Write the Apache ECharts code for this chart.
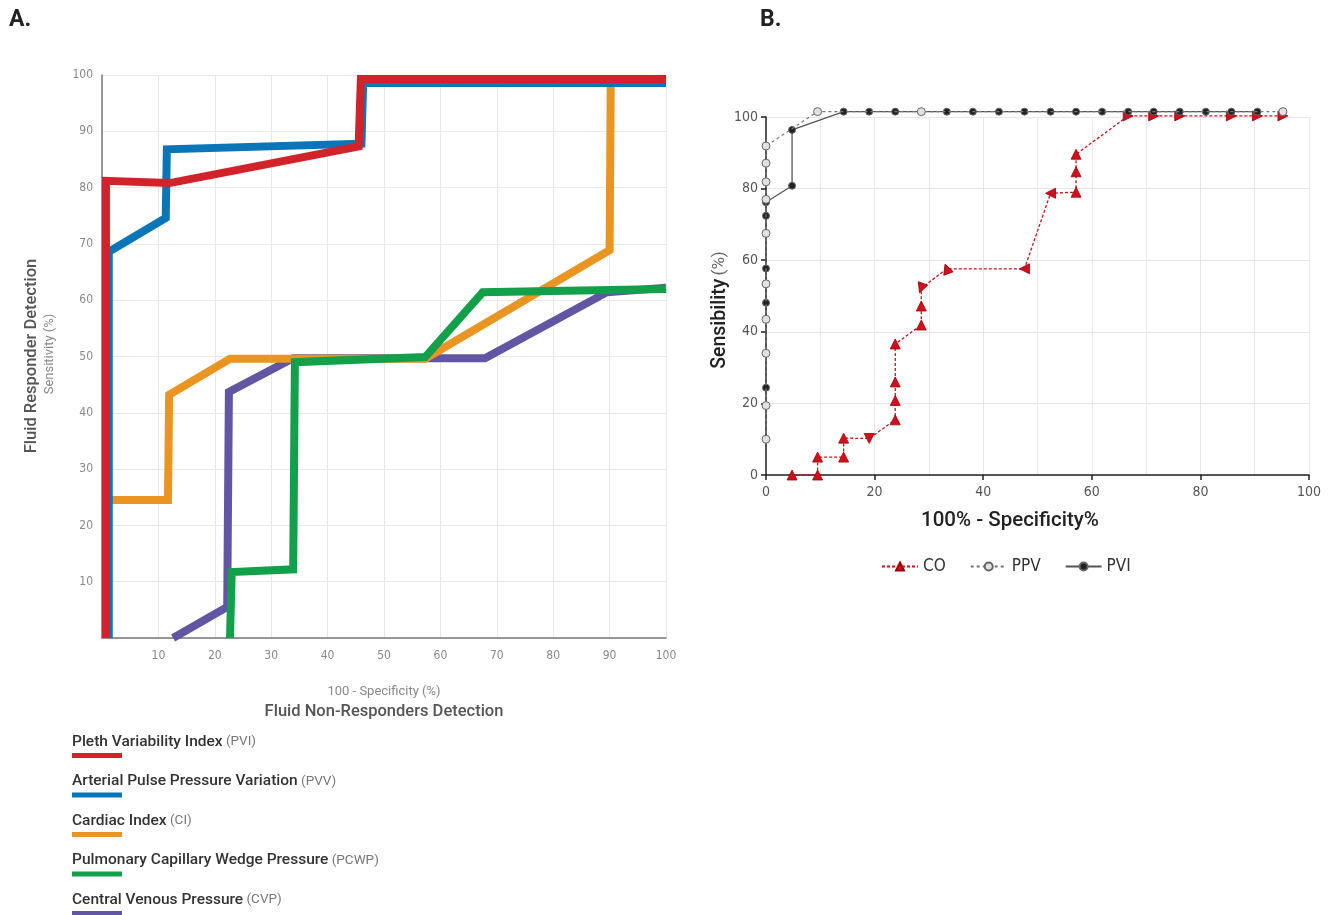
<!DOCTYPE html>
<html>
<head>
<meta charset="utf-8">
<script src="https://cdn.jsdelivr.net/npm/echarts@6/dist/echarts.min.js"></script>
<style>
html,body{margin:0;padding:0;background:#fff;}
#chart{width:1336px;height:915px;}
</style>
</head>
<body>
<div id="chart"></div>
<script>
// ---------- Panel A data (x = 100 - specificity, y = sensitivity) ----------
const cvpX  = [12.6, 22.2, 22.5, 33.9, 67.9, 89.5, 100];
const cvpY  = [0, 5.5, 43.7, 49.7, 49.7, 61.4, 62.2];
const ciX   = [1.5, 11.7, 11.9, 22.7, 57.3, 90.0, 90.2, 100];
const ciY   = [24.5, 24.5, 43.2, 49.6, 49.6, 68.9, 99.0, 99.0];
const pcwpX = [22.7, 23.0, 33.9, 34.2, 57.3, 67.5, 100];
const pcwpY = [0, 11.7, 12.2, 49.0, 49.9, 61.4, 62.0];
const pvvX  = [1.2, 1.2, 11.3, 11.5, 46.0, 46.3, 100];
const pvvY  = [0, 68.6, 74.6, 86.8, 87.8, 98.6, 98.6];
const pviAX = [0.7, 0.7, 12.0, 45.5, 45.9, 100];
const pviAY = [0, 81.2, 80.8, 87.3, 99.3, 99.3];
const axisTicksA = [0, 10, 20, 30, 40, 50, 60, 70, 80, 90, 100];
const legendNamesA = ['Pleth Variability Index', 'Arterial Pulse Pressure Variation', 'Cardiac Index', 'Pulmonary Capillary Wedge Pressure', 'Central Venous Pressure'];
const legendAbbrA  = ['(PVI)', '(PVV)', '(CI)', '(PCWP)', '(CVP)'];

// ---------- Panel B data ----------
const coX  = [4.8, 9.5, 9.5, 14.3, 14.3, 19.0, 23.8, 23.8, 23.8, 23.8, 28.6, 28.6, 28.6, 33.3, 47.6, 52.4, 57.1, 57.1, 57.1, 66.7, 71.4, 76.2, 85.7, 90.5, 95.2];
const coY  = [0, 0, 5.0, 5.0, 10.3, 10.2, 15.4, 20.8, 26.0, 36.6, 41.9, 47.2, 52.2, 57.6, 57.6, 78.7, 79.0, 84.7, 89.6, 100.3, 100.3, 100.3, 100.3, 100.3, 100.3];
const coMarkerTurn = [0, 0, 0, 0, 0, 180, 0, 0, 0, 0, 0, 0, 160, 20, 90, 90, 0, 0, 0, -90, -90, -90, -90, -90, -90];
const ppvX = [0, 0, 0, 0, 0, 0, 0, 0, 0, 0, 9.5, 28.6, 95.2];
const ppvY = [10.0, 19.4, 34.0, 43.5, 53.4, 67.5, 77.0, 81.9, 87.1, 91.9, 101.5, 101.5, 101.5];
const pviBX = [0, 0, 0, 0, 0, 4.8, 4.8, 14.3, 19.0, 23.8, 33.3, 38.1, 42.9, 47.6, 52.4, 57.1, 61.9, 66.7, 71.4, 76.2, 81.0, 85.7, 90.5];
const pviBY = [24.4, 48.1, 57.7, 72.4, 76.2, 80.8, 96.4, 101.5, 101.5, 101.5, 101.5, 101.5, 101.5, 101.5, 101.5, 101.5, 101.5, 101.5, 101.5, 101.5, 101.5, 101.5, 101.5];
const seriesNamesB = ['CO', 'PPV', 'PVI'];

const zip = (xs, ys) => xs.map((x, i) => [x, ys[i]]);

const colorsA = ['#d2232a', '#0a76b7', '#ea9522', '#13a04b', '#6155a4'];
const FONT = 'Roboto, "Noto Sans", sans-serif';
const TICKFONT = '"DejaVu Sans Condensed", "Liberation Sans Narrow", Roboto, sans-serif';

function lineA(name, xs, ys, color, z) {
  return {
    type: 'line', name: name, xAxisIndex: 0, yAxisIndex: 0,
    data: zip(xs, ys), showSymbol: false, symbol: 'none', z: z,
    lineStyle: { color: color, width: 8, join: 'miter', cap: 'butt' },
    animation: false, silent: true
  };
}

const chart = echarts.init(document.getElementById('chart'), null, { renderer: 'canvas' });

const graphics = [];
graphics.push({ type: 'text', left: 9, top: 9, style: { text: 'A.', font: 'bold 23px ' + FONT, fill: '#222' } });
graphics.push({ type: 'text', left: 760, top: 9, style: { text: 'B.', font: 'bold 23px ' + FONT, fill: '#222' } });
// Panel A axis titles
graphics.push({ type: 'text', x: 32, y: 356, rotation: Math.PI / 2,
  style: { text: 'Fluid Responder Detection', font: '500 16.5px ' + FONT, fill: '#555', align: 'center', verticalAlign: 'middle' } });
graphics.push({ type: 'text', x: 50, y: 354, rotation: Math.PI / 2,
  style: { text: 'Sensitivity (%)', font: '13px ' + FONT, fill: '#888', align: 'center', verticalAlign: 'middle' } });
graphics.push({ type: 'text', x: 384, y: 692,
  style: { text: '100 - Specificity (%)', font: '13px ' + FONT, fill: '#888', align: 'center', verticalAlign: 'middle' } });
graphics.push({ type: 'text', x: 384, y: 712,
  style: { text: 'Fluid Non-Responders Detection', font: '500 16.5px ' + FONT, fill: '#555', align: 'center', verticalAlign: 'middle' } });
// Panel A legend
legendNamesA.forEach((nm, i) => {
  const y0 = 742 + i * 39.5;
  graphics.push({ type: 'text', x: 72, y: y0,
    style: { text: '{b|' + nm + '} {n|' + legendAbbrA[i] + '}', verticalAlign: 'middle', align: 'left',
      rich: { b: { font: '500 15.5px ' + FONT, fill: '#333' }, n: { font: '13.5px ' + FONT, fill: '#777' } } } });
  graphics.push({ type: 'rect', shape: { x: 72, y: y0 + 11, width: 50, height: 5 }, style: { fill: colorsA[i] } });
});
// Panel B axis titles
graphics.push({ type: 'text', x: 720, y: 310, rotation: Math.PI / 2,
  style: { text: '{b|Sensibility} {n|(%)}', align: 'center', verticalAlign: 'middle',
    rich: { b: { font: '500 19.5px ' + FONT, fill: '#222' }, n: { font: '17px ' + FONT, fill: '#666' } } } });
graphics.push({ type: 'text', x: 1010, y: 521,
  style: { text: '100% - Specificity%', font: '500 20.5px ' + FONT, fill: '#222', align: 'center', verticalAlign: 'middle' } });

const option = {
  backgroundColor: '#fff',
  animation: false,
  grid: [
    { left: 102, top: 75, width: 564, height: 563 },
    { left: 766, top: 117, width: 543, height: 358 }
  ],
  xAxis: [
    { type: 'value', gridIndex: 0, min: axisTicksA[0], max: axisTicksA[axisTicksA.length - 1], interval: 10,
      axisLine: { show: true, lineStyle: { color: '#777', width: 1.5 } }, axisTick: { show: false },
      axisLabel: { showMinLabel: false, color: '#888', fontSize: 12, fontFamily: TICKFONT, margin: 12 },
      splitLine: { show: true, lineStyle: { color: '#e8e8e8', width: 1 } } },
    { type: 'value', gridIndex: 1, min: 0, max: 100, interval: 20,
      axisLine: { show: true, onZero: false, lineStyle: { color: '#222', width: 1.5 } },
      axisTick: { show: true, length: 5, lineStyle: { color: '#222', width: 1.5 } },
      axisLabel: { color: '#555', fontSize: 14, fontFamily: TICKFONT, margin: 10 },
      splitLine: { show: true, lineStyle: { color: '#e6e6e6', width: 1 } },
      minorTick: { show: false, splitNumber: 2 },
      minorSplitLine: { show: true, lineStyle: { color: '#e6e6e6', width: 1 } } }
  ],
  yAxis: [
    { type: 'value', gridIndex: 0, min: axisTicksA[0], max: axisTicksA[axisTicksA.length - 1], interval: 10,
      axisLine: { show: true, lineStyle: { color: '#777', width: 1.5 } }, axisTick: { show: false },
      axisLabel: { showMinLabel: false, color: '#888', fontSize: 12, fontFamily: TICKFONT, margin: 9 },
      splitLine: { show: true, lineStyle: { color: '#e8e8e8', width: 1 } } },
    { type: 'value', gridIndex: 1, min: 0, max: 100, interval: 20,
      axisLine: { show: true, onZero: false, lineStyle: { color: '#222', width: 1.5 } },
      axisTick: { show: true, length: 5, lineStyle: { color: '#222', width: 1.5 } },
      axisLabel: { color: '#555', fontSize: 14, fontFamily: TICKFONT, margin: 8 },
      splitLine: { show: true, lineStyle: { color: '#e6e6e6', width: 1 } } }
  ],
  legend: {
    data: seriesNamesB, left: 876, top: 553, itemWidth: 36, itemHeight: 10, itemGap: 24,
    textStyle: { fontSize: 17, color: '#333', fontFamily: TICKFONT }
  },
  graphic: graphics,
  series: [
    lineA('CVP', cvpX, cvpY, colorsA[4], 2),
    lineA('CI', ciX, ciY, colorsA[2], 3),
    lineA('PCWP', pcwpX, pcwpY, colorsA[3], 4),
    lineA('PVV', pvvX, pvvY, colorsA[1], 5),
    lineA('PVI-A', pviAX, pviAY, colorsA[0], 6),
    {
      type: 'line', name: 'CO', xAxisIndex: 1, yAxisIndex: 1, clip: false, z: 4,
      data: zip(coX, coY).map((p, i) => ({ value: p, symbolRotate: coMarkerTurn[i] })),
      symbol: 'triangle', symbolSize: 10,
      itemStyle: { color: '#d0101b', borderColor: '#a0000c', borderWidth: 0.8 },
      lineStyle: { color: '#c8101e', width: 1.3, type: [3, 2] }
    },
    {
      type: 'line', name: 'PVI', xAxisIndex: 1, yAxisIndex: 1, clip: false, z: 5,
      data: zip(pviBX, pviBY), symbol: 'circle', symbolSize: 7,
      itemStyle: { color: '#222', borderColor: '#666', borderWidth: 1 },
      lineStyle: { color: '#555', width: 1.3 }
    },
    {
      type: 'line', name: 'PPV', xAxisIndex: 1, yAxisIndex: 1, clip: false, z: 6,
      data: zip(ppvX, ppvY), symbol: 'circle', symbolSize: 8,
      itemStyle: { color: '#e2e2e2', borderColor: '#666', borderWidth: 1 },
      lineStyle: { color: '#777', width: 1.2, type: [3, 3] }
    }
  ]
};
chart.setOption(option);
</script>
</body>
</html>
